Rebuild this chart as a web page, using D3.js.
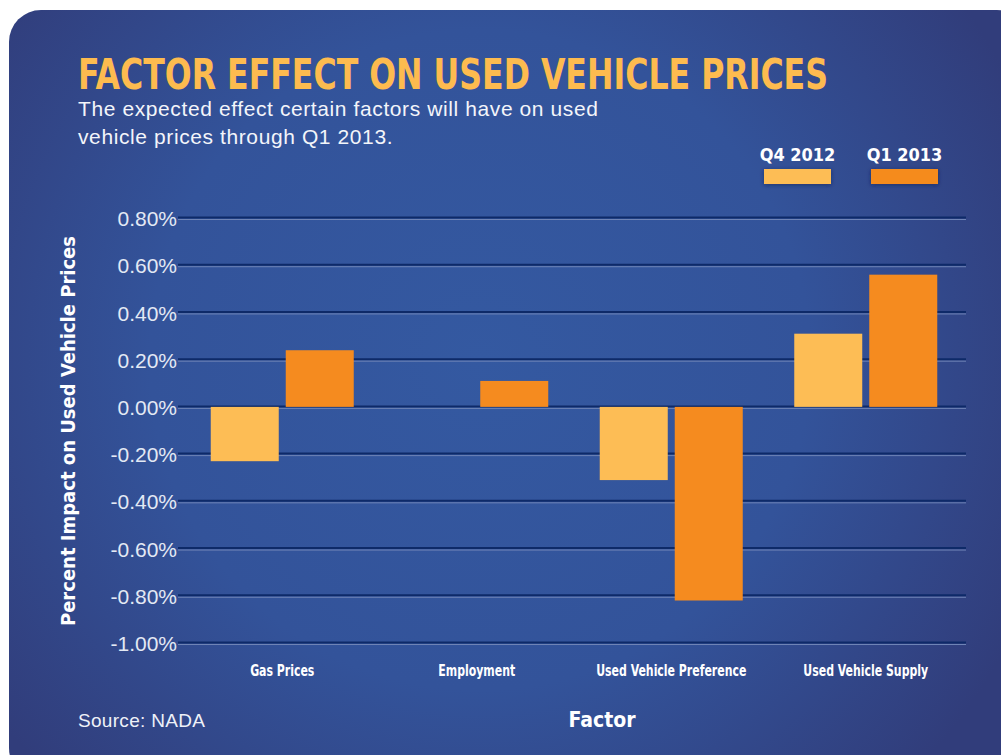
<!DOCTYPE html>
<html>
<head>
<meta charset="utf-8">
<script src="https://cdn.jsdelivr.net/npm/d3@7"></script>
<style>
  html, body { margin: 0; padding: 0; background: #fff; }
  svg { display: block; }
</style>
</head>
<body>
<div id="chart"></div>
<script>
// data
var factors = ["Gas Prices", "Employment", "Used Vehicle Preference", "Used Vehicle Supply"];
var seriesNames = ["Q4 2012", "Q1 2013"];
var q4_2012 = [-0.23, 0.00, -0.31, 0.31];
var q1_2013 = [0.24, 0.11, -0.82, 0.56];
var yTicks = [0.8, 0.6, 0.4, 0.2, 0, -0.2, -0.4, -0.6, -0.8, -1.0];
var colors = ["#fdbd55", "#f58b1f"];

function init() {
    var w = 1001, h = 755;
    var condensed = "'DejaVu Sans Condensed', 'Liberation Sans Narrow', 'Roboto Condensed', sans-serif";
    var plain = "'Liberation Sans', Arial, sans-serif";

    var svg = d3.select("#chart").append("svg")
        .attr("width", w).attr("height", h);

    var defs = svg.append("defs");
    var grad = defs.append("radialGradient")
        .attr("id", "bg")
        .attr("gradientUnits", "userSpaceOnUse")
        .attr("cx", 480).attr("cy", 360).attr("r", 600);
    grad.append("stop").attr("offset", "0%").attr("stop-color", "#3459a1");
    grad.append("stop").attr("offset", "55%").attr("stop-color", "#33539a");
    grad.append("stop").attr("offset", "100%").attr("stop-color", "#313d7b");

    var shadow = defs.append("filter").attr("id", "sh")
        .attr("x", "-20%").attr("y", "-40%").attr("width", "140%").attr("height", "180%");
    shadow.append("feDropShadow").attr("dx", 0).attr("dy", 1)
        .attr("stdDeviation", 2).attr("flood-color", "#102050").attr("flood-opacity", 0.6);

    svg.append("rect")
        .attr("x", 9).attr("y", 10)
        .attr("width", 1020).attr("height", 770)
        .attr("rx", 32).attr("ry", 32)
        .attr("fill", "url(#bg)");

    // scales
    var yscale = d3.scaleLinear()
        .domain([-1.0, 0.8])
        .range([643, 218]);

    var xscale = d3.scaleBand()
        .domain(factors)
        .range([185, 963]);

    var groupW = 143;
    var xsub = d3.scaleBand()
        .domain(seriesNames)
        .range([0, groupW])
        .paddingInner(0.0933);

    // grid lines (dark line + light line below)
    var grid = svg.append("g");
    grid.selectAll("line.dark")
        .data(yTicks).enter().append("line")
        .attr("class", "dark")
        .attr("x1", 178).attr("x2", 966)
        .attr("y1", function(d) { return yscale(d) - 0.5; })
        .attr("y2", function(d) { return yscale(d) - 0.5; })
        .attr("stroke", "#0e2a68").attr("stroke-width", 2);
    grid.selectAll("line.light")
        .data(yTicks).enter().append("line")
        .attr("class", "light")
        .attr("x1", 178).attr("x2", 966)
        .attr("y1", function(d) { return yscale(d) + 1.5; })
        .attr("y2", function(d) { return yscale(d) + 1.5; })
        .attr("stroke", "#6f84b6").attr("stroke-width", 1);

    // y axis labels
    var yAxis = d3.axisLeft(yscale)
        .tickValues(yTicks)
        .tickSize(0)
        .tickPadding(0)
        .tickFormat(function(d) { return d.toFixed(2) + "%"; });

    var yg = svg.append("g")
        .attr("transform", "translate(177,0)")
        .call(yAxis);
    yg.select(".domain").remove();
    yg.selectAll("text")
        .attr("fill", "#e3e9f4")
        .attr("dy", "0.36em")
        .style("font-family", plain)
        .style("font-size", "21px");

    // bars
    var rows = [];
    factors.forEach(function(f, i) {
        rows.push({ f: f, s: seriesNames[0], v: q4_2012[i] });
        rows.push({ f: f, s: seriesNames[1], v: q1_2013[i] });
    });

    svg.append("g").selectAll("rect")
        .data(rows.filter(function(d) { return d.v !== 0; }))
        .enter().append("rect")
        .attr("x", function(d) {
            return xscale(d.f) + (xscale.bandwidth() - groupW) / 2 + xsub(d.s);
        })
        .attr("y", function(d) { return yscale(Math.max(0, d.v)); })
        .attr("width", xsub.bandwidth())
        .attr("height", function(d) { return Math.abs(yscale(d.v) - yscale(0)); })
        .attr("fill", function(d) { return colors[seriesNames.indexOf(d.s)]; });

    // x axis labels
    var xAxis = d3.axisBottom(xscale).tickSize(0).tickPadding(0);
    var xg = svg.append("g")
        .attr("transform", "translate(0,665)")
        .call(xAxis);
    xg.select(".domain").remove();
    xg.selectAll("text")
        .attr("fill", "#ffffff")
        .attr("transform", "scale(0.76,1)")
        .style("font-family", condensed)
        .style("font-size", "16px")
        .style("font-weight", "bold");

    // title
    svg.append("text")
        .attr("x", 78).attr("y", 89)
        .attr("textLength", 750)
        .attr("lengthAdjust", "spacingAndGlyphs")
        .attr("fill", "#fdbb4f")
        .style("font-family", condensed)
        .style("font-size", "42px")
        .style("font-weight", "bold")
        .text("FACTOR EFFECT ON USED VEHICLE PRICES");

    var sub = ["The expected effect certain factors will have on used", "vehicle prices through Q1 2013."];
    svg.selectAll("text.sub")
        .data(sub).enter().append("text")
        .attr("class", "sub")
        .attr("x", 78)
        .attr("y", function(d, i) { return 116 + i * 28; })
        .attr("fill", "#f3f5fa")
        .style("font-family", plain)
        .style("font-size", "21px")
        .style("letter-spacing", "0.6px")
        .text(function(d) { return d; });

    // legend
    var legX = [764, 871];
    var leg = svg.append("g");
    leg.selectAll("rect")
        .data(seriesNames).enter().append("rect")
        .attr("x", function(d, i) { return legX[i]; })
        .attr("y", 169)
        .attr("width", 67).attr("height", 15)
        .attr("fill", function(d, i) { return colors[i]; })
        .attr("filter", "url(#sh)");
    leg.selectAll("text")
        .data(seriesNames).enter().append("text")
        .attr("x", function(d, i) { return legX[i] + 33.5; })
        .attr("y", 161)
        .attr("text-anchor", "middle")
        .attr("fill", "#ffffff")
        .style("font-family", condensed)
        .style("font-size", "18px")
        .style("font-weight", "bold")
        .text(function(d) { return d; });

    // axis titles
    svg.append("text")
        .attr("transform", "translate(75,431) rotate(-90)")
        .attr("text-anchor", "middle")
        .attr("fill", "#ffffff")
        .style("font-family", condensed)
        .style("font-size", "20px")
        .style("font-weight", "bold")
        .text("Percent Impact on Used Vehicle Prices");

    svg.append("text")
        .attr("x", 602).attr("y", 727)
        .attr("text-anchor", "middle")
        .attr("fill", "#ffffff")
        .style("font-family", condensed)
        .style("font-size", "21px")
        .style("font-weight", "bold")
        .text("Factor");

    svg.append("text")
        .attr("x", 78).attr("y", 727)
        .attr("fill", "#eef1f8")
        .style("font-family", plain)
        .style("font-size", "19px")
        .style("letter-spacing", "0.3px")
        .text("Source: NADA");
}

window.onload = init;
</script>
</body>
</html>
